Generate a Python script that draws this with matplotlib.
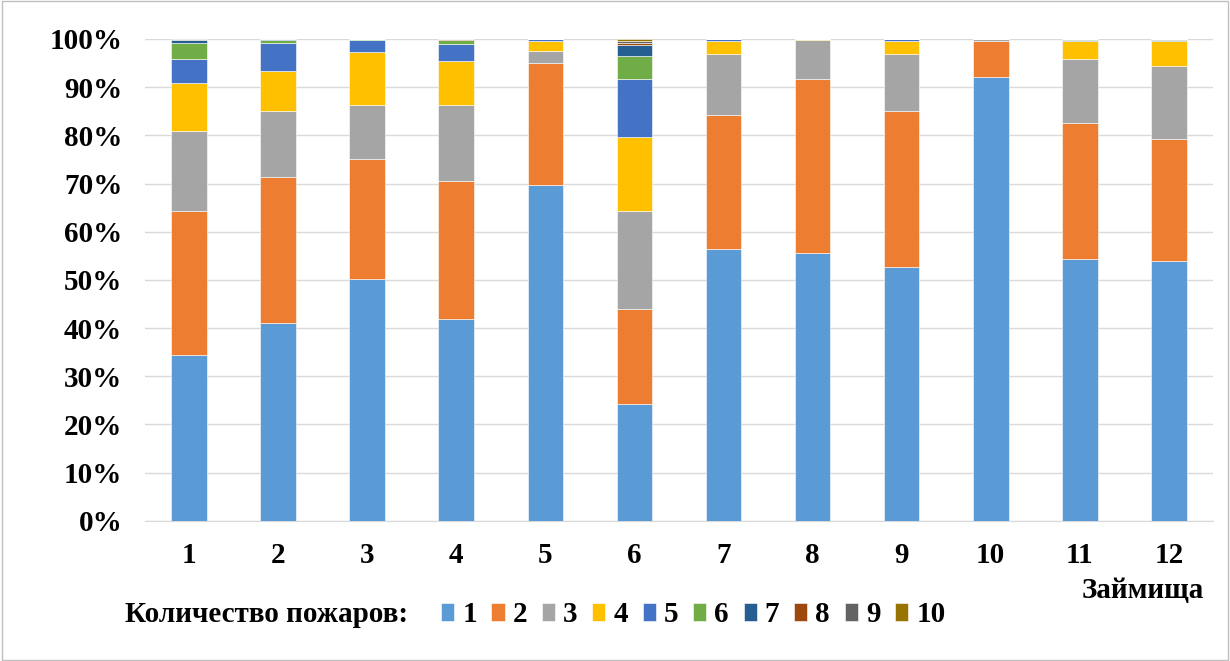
import numpy as np
import matplotlib.pyplot as plt
from matplotlib.patches import Rectangle
from matplotlib.ticker import PercentFormatter

zaimishcha = ['1', '2', '3', '4', '5', '6', '7', '8', '9', '10', '11', '12']
fires = ['1', '2', '3', '4', '5', '6', '7', '8', '9', '10']

# share (%) of each fire count per zaimishche, columns = zaimishche 1..12
f1 = [34.4, 41.1, 50.2, 41.9, 69.7, 24.3, 56.4, 55.6, 52.7, 92.1, 54.4, 53.9]
f2 = [29.9, 30.3, 24.9, 28.6, 25.4, 19.7, 27.8, 36.1, 32.4, 7.4, 28.2, 25.4]
f3 = [16.6, 13.7, 11.3, 15.7, 2.5, 20.3, 12.6, 8.1, 11.7, 0.5, 13.2, 15.0]
f4 = [10.0, 8.3, 11.0, 9.3, 2.0, 15.4, 2.8, 0.2, 2.8, 0.0, 3.8, 5.3]
f5 = [5.0, 5.8, 2.3, 3.4, 0.4, 12.1, 0.4, 0.0, 0.4, 0.0, 0.2, 0.2]
f6 = [3.2, 0.6, 0.2, 0.8, 0.0, 4.7, 0.0, 0.0, 0.0, 0.0, 0.2, 0.2]
f7 = [0.6, 0.2, 0.1, 0.0, 0.0, 2.3, 0.0, 0.0, 0.0, 0.0, 0.0, 0.0]
f8 = [0.0, 0.0, 0.0, 0.3, 0.0, 0.4, 0.0, 0.0, 0.0, 0.0, 0.0, 0.0]
f9 = [0.3, 0.0, 0.0, 0.0, 0.0, 0.4, 0.0, 0.0, 0.0, 0.0, 0.0, 0.0]
f10 = [0.0, 0.0, 0.0, 0.0, 0.0, 0.4, 0.0, 0.0, 0.0, 0.0, 0.0, 0.0]
series = [f1, f2, f3, f4, f5, f6, f7, f8, f9, f10]

colors = ['#5B9BD5', '#ED7D31', '#A5A5A5', '#FFC000', '#4472C4',
          '#70AD47', '#255E91', '#9E480E', '#636363', '#997300']

plt.rcParams['font.family'] = ['Liberation Serif', 'DejaVu Serif']
plt.rcParams['font.weight'] = 'bold'
FS = 21

fig = plt.figure(figsize=(12.3, 6.61), dpi=100)
ax = fig.add_axes([0.1175, 0.212, 0.869, 0.729])

x = np.arange(1, 13)
data = np.array(series)
data = data / data.sum(axis=0) * 100
bottom = np.zeros(12)
for i, vals in enumerate(data):
    ax.bar(x, vals, 0.4, bottom=bottom, color=colors[i], label=fires[i],
           edgecolor='white', linewidth=0.4, zorder=3)
    bottom += vals

ax.set_xlim(0.5, 12.5)
ax.set_ylim(0, 100)
ax.set_yticks(np.arange(0, 101, 10))
ax.yaxis.set_major_formatter(PercentFormatter(decimals=0))
ax.set_xticks(x)
ax.set_xticklabels(zaimishcha)
ax.grid(axis='y', color='#D9D9D9', linewidth=1, zorder=0)
for s in ['top', 'right', 'left']:
    ax.spines[s].set_visible(False)
ax.spines['bottom'].set_color('#D9D9D9')
ax.tick_params(length=0, labelsize=FS)
ax.tick_params(axis='x', pad=15)
ax.tick_params(axis='y', pad=16)

fig.text(0.979, 0.107, 'Займища', ha='right', va='center', fontsize=FS, fontweight='bold')
fig.text(0.1016, 0.07, 'Количество пожаров:', ha='left', va='center', fontsize=FS, fontweight='bold')
fig.legend(loc='center left', bbox_to_anchor=(0.3585, 0.07), ncol=10, frameon=False,
           fontsize=FS, handlelength=0.45, handleheight=0.55, handletextpad=0.28,
           columnspacing=0.5, borderaxespad=0, borderpad=0)

fig.patches.append(Rectangle((0.002, 0.002), 0.996, 0.996, transform=fig.transFigure,
                             fill=False, edgecolor='#BFBFBF', linewidth=1))

fig.savefig('out.png', dpi=100)
